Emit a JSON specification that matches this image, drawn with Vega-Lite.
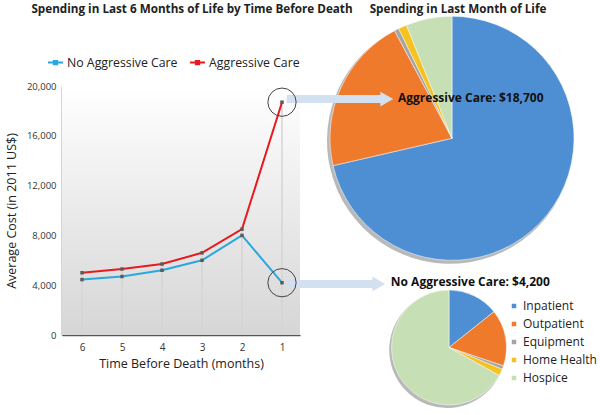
{
  "$schema": "https://vega.github.io/schema/vega-lite/v6.json",
  "autosize": {"type": "none"},
  "width": 238,
  "height": 249,
  "padding": {"left": 62, "top": 86, "right": 300, "bottom": 80},
  "background": "white",
  "config": {"font": "Open Sans", "view": {"stroke": null}},
  "datasets": {
    "lines": [
      {"month": 6, "series": "No Aggressive Care", "cost": 4450},
      {"month": 5, "series": "No Aggressive Care", "cost": 4700},
      {"month": 4, "series": "No Aggressive Care", "cost": 5200},
      {"month": 3, "series": "No Aggressive Care", "cost": 6000},
      {"month": 2, "series": "No Aggressive Care", "cost": 8000},
      {"month": 1, "series": "No Aggressive Care", "cost": 4200},
      {"month": 6, "series": "Aggressive Care", "cost": 5000},
      {"month": 5, "series": "Aggressive Care", "cost": 5300},
      {"month": 4, "series": "Aggressive Care", "cost": 5700},
      {"month": 3, "series": "Aggressive Care", "cost": 6600},
      {"month": 2, "series": "Aggressive Care", "cost": 8500},
      {"month": 1, "series": "Aggressive Care", "cost": 18700}
    ],
    "aggr": [
      {"category": "Inpatient", "pct": 71.4, "k": 1},
      {"category": "Outpatient", "pct": 20.8, "k": 2},
      {"category": "Equipment", "pct": 0.6, "k": 3},
      {"category": "Home Health", "pct": 1.1, "k": 4},
      {"category": "Hospice", "pct": 6.1, "k": 5}
    ],
    "noaggr": [
      {"category": "Inpatient", "pct": 14.3, "k": 1},
      {"category": "Outpatient", "pct": 15.9, "k": 2},
      {"category": "Equipment", "pct": 1.0, "k": 3},
      {"category": "Home Health", "pct": 1.9, "k": 4},
      {"category": "Hospice", "pct": 66.9, "k": 5}
    ],
    "one": [{"n": 1}],
    "t1": [{"label": "Spending in Last 6 Months of Life by Time Before Death"}],
    "t2": [{"label": "Spending in Last Month of Life"}],
    "a1": [{"label": "Aggressive Care: $18,700"}],
    "a2": [{"label": "No Aggressive Care: $4,200"}]
  },
  "layer": [
    {
      "data": {"name": "one"},
      "mark": {"type": "rect", "color": {"gradient": "linear", "x1": 0, "y1": 0, "x2": 0, "y2": 1, "stops": [{"offset": 0, "color": "#ffffff"}, {"offset": 1, "color": "#d6d6d6"}]}},
      "encoding": {
        "x": {"datum": 6.5, "type": "quantitative"},
        "x2": {"datum": 0.55},
        "y": {"datum": 20000, "type": "quantitative"},
        "y2": {"datum": 0}
      }
    },
    {
      "data": {"name": "lines"},
      "transform": [{"filter": "datum.series == 'Aggressive Care'"}],
      "mark": {"type": "rule", "color": "#d4d4d4", "strokeWidth": 1.5},
      "encoding": {
        "x": {"field": "month", "type": "quantitative"},
        "y": {"field": "cost", "type": "quantitative"},
        "y2": {"datum": 0}
      }
    },
    {
      "data": {"name": "lines"},
      "mark": {"type": "line", "strokeWidth": 2},
      "encoding": {
        "x": {"field": "month", "type": "quantitative",
          "scale": {"domain": [0.55, 6.5], "reverse": true, "nice": false, "zero": false},
          "axis": {"title": "Time Before Death (months)", "values": [1, 2, 3, 4, 5, 6], "format": "d", "grid": false, "ticks": false,
            "domainColor": "#555555", "domainWidth": 1.5, "labelFontSize": 10, "labelColor": "#333333", "labelPadding": 7,
            "titleFontSize": 12.5, "titleFontWeight": "normal", "titleColor": "#222222", "titlePadding": 5}},
        "y": {"field": "cost", "type": "quantitative",
          "scale": {"domain": [0, 20000], "nice": false},
          "axis": {"title": "Average Cost (in 2011 US$)", "values": [0, 4000, 8000, 12000, 16000, 20000], "format": ",d", "grid": false, "ticks": false,
            "domainColor": "#555555", "domainWidth": 1.5, "labelFontSize": 9.5, "labelColor": "#333333", "labelPadding": 6,
            "titleFontSize": 12.5, "titleFontWeight": "normal", "titleColor": "#222222", "titlePadding": 8}},
        "stroke": {"field": "series", "type": "nominal",
          "scale": {"domain": ["No Aggressive Care", "Aggressive Care"], "range": ["#29a8df", "#e8191f"]},
          "legend": {"title": null, "orient": "none", "legendX": -15, "legendY": -32, "direction": "horizontal",
            "symbolType": "M-1,0H1M-0.22,-0.22H0.22V0.22H-0.22Z", "symbolSize": 225, "symbolStrokeWidth": 2, "labelFontSize": 12.3, "labelColor": "#222222",
            "labelOffset": 3, "columnPadding": 8, "padding": 0}}
      }
    },
    {
      "data": {"name": "lines"},
      "mark": {"type": "point", "shape": "square", "filled": true, "color": "#5a5a5a", "size": 12, "opacity": 1},
      "encoding": {
        "x": {"field": "month", "type": "quantitative"},
        "y": {"field": "cost", "type": "quantitative"}
      }
    },
    {
      "data": {"name": "aggr"},
      "transform": [{"stack": "pct", "groupby": [], "sort": [{"field": "k", "order": "ascending"}], "as": ["s0", "s1"]}],
      "mark": {"type": "arc", "outerRadius": 123, "color": "#7f7f7f", "opacity": 0.55},
      "encoding": {
        "x": {"datum": -3.2, "type": "quantitative"},
        "y": {"datum": 15600, "type": "quantitative"},
        "theta": {"field": "s0", "type": "quantitative", "scale": {"domain": [0, 100]}},
        "theta2": {"field": "s1"}
      }
    },
    {
      "data": {"name": "noaggr"},
      "transform": [{"stack": "pct", "groupby": [], "sort": [{"field": "k", "order": "ascending"}], "as": ["s0", "s1"]}],
      "mark": {"type": "arc", "outerRadius": 58, "color": "#7f7f7f", "opacity": 0.55},
      "encoding": {
        "x": {"datum": -3.13, "type": "quantitative"},
        "y": {"datum": -1200, "type": "quantitative"},
        "theta": {"field": "s0", "type": "quantitative"},
        "theta2": {"field": "s1"}
      }
    },
    {
      "data": {"name": "aggr"},
      "transform": [{"stack": "pct", "groupby": [], "sort": [{"field": "k", "order": "ascending"}], "as": ["s0", "s1"]}],
      "mark": {"type": "arc", "outerRadius": 122, "stroke": "white", "strokeWidth": 0.5},
      "encoding": {
        "x": {"datum": -3.25, "type": "quantitative"},
        "y": {"datum": 15800, "type": "quantitative"},
        "theta": {"field": "s0", "type": "quantitative"},
        "theta2": {"field": "s1"},
        "color": {"field": "category", "type": "nominal",
          "scale": {"domain": ["Inpatient", "Outpatient", "Equipment", "Home Health", "Hospice"], "range": ["#4e8fd4", "#ef7a2b", "#a5a5a5", "#f5c21f", "#c6dfb4"]},
          "legend": {"title": null, "orient": "none", "legendX": 446, "legendY": 214, "direction": "vertical",
            "symbolType": "square", "symbolSize": 36, "labelFontSize": 12, "labelColor": "#222222", "labelOffset": 3, "rowPadding": 6, "padding": 0}}
      }
    },
    {
      "data": {"name": "noaggr"},
      "transform": [{"stack": "pct", "groupby": [], "sort": [{"field": "k", "order": "ascending"}], "as": ["s0", "s1"]}],
      "mark": {"type": "arc", "outerRadius": 57.5, "stroke": "white", "strokeWidth": 0.5},
      "encoding": {
        "x": {"datum": -3.175, "type": "quantitative"},
        "y": {"datum": -1004, "type": "quantitative"},
        "theta": {"field": "s0", "type": "quantitative"},
        "theta2": {"field": "s1"},
        "color": {"field": "category", "type": "nominal"}
      }
    },
    {
      "data": {"name": "one"},
      "mark": {"type": "rule", "color": "#d3e0f0", "strokeWidth": 8},
      "encoding": {
        "x": {"datum": 0.88, "type": "quantitative"},
        "x2": {"datum": -1.55},
        "y": {"datum": 18950, "type": "quantitative"}
      }
    },
    {
      "data": {"name": "one"},
      "mark": {"type": "point", "shape": "triangle-right", "filled": true, "color": "#d3e0f0", "size": 220, "opacity": 1},
      "encoding": {
        "x": {"datum": -1.62, "type": "quantitative"},
        "y": {"datum": 18950, "type": "quantitative"}
      }
    },
    {
      "data": {"name": "one"},
      "mark": {"type": "rule", "color": "#d3e0f0", "strokeWidth": 8},
      "encoding": {
        "x": {"datum": 0.88, "type": "quantitative"},
        "x2": {"datum": -1.35},
        "y": {"datum": 4100, "type": "quantitative"}
      }
    },
    {
      "data": {"name": "one"},
      "mark": {"type": "point", "shape": "triangle-right", "filled": true, "color": "#d3e0f0", "size": 220, "opacity": 1},
      "encoding": {
        "x": {"datum": -1.42, "type": "quantitative"},
        "y": {"datum": 4100, "type": "quantitative"}
      }
    },
    {
      "data": {"name": "lines"},
      "transform": [{"filter": "datum.month == 1"}],
      "mark": {"type": "point", "shape": "circle", "filled": false, "color": "#444444", "strokeWidth": 1, "size": 800, "opacity": 1},
      "encoding": {
        "x": {"field": "month", "type": "quantitative"},
        "y": {"field": "cost", "type": "quantitative"}
      }
    },
    {
      "data": {"name": "a1"},
      "mark": {"type": "text", "align": "left", "baseline": "middle", "fontWeight": "bold", "fontSize": 12, "color": "#111111"},
      "encoding": {
        "x": {"datum": -1.9, "type": "quantitative"},
        "y": {"datum": 19000, "type": "quantitative"},
        "text": {"field": "label", "type": "nominal"}
      }
    },
    {
      "data": {"name": "a2"},
      "mark": {"type": "text", "align": "left", "baseline": "middle", "fontWeight": "bold", "fontSize": 12, "color": "#111111"},
      "encoding": {
        "x": {"datum": -1.72, "type": "quantitative"},
        "y": {"datum": 4280, "type": "quantitative"},
        "text": {"field": "label", "type": "nominal"}
      }
    },
    {
      "data": {"name": "t1"},
      "mark": {"type": "text", "align": "center", "baseline": "middle", "fontWeight": "bold", "fontSize": 11.7, "color": "#222222"},
      "encoding": {
        "x": {"datum": 3.25, "type": "quantitative"},
        "y": {"datum": 26184, "type": "quantitative"},
        "text": {"field": "label", "type": "nominal"}
      }
    },
    {
      "data": {"name": "t2"},
      "mark": {"type": "text", "align": "center", "baseline": "middle", "fontWeight": "bold", "fontSize": 11.7, "color": "#222222"},
      "encoding": {
        "x": {"datum": -3.4, "type": "quantitative"},
        "y": {"datum": 26184, "type": "quantitative"},
        "text": {"field": "label", "type": "nominal"}
      }
    }
  ]
}
